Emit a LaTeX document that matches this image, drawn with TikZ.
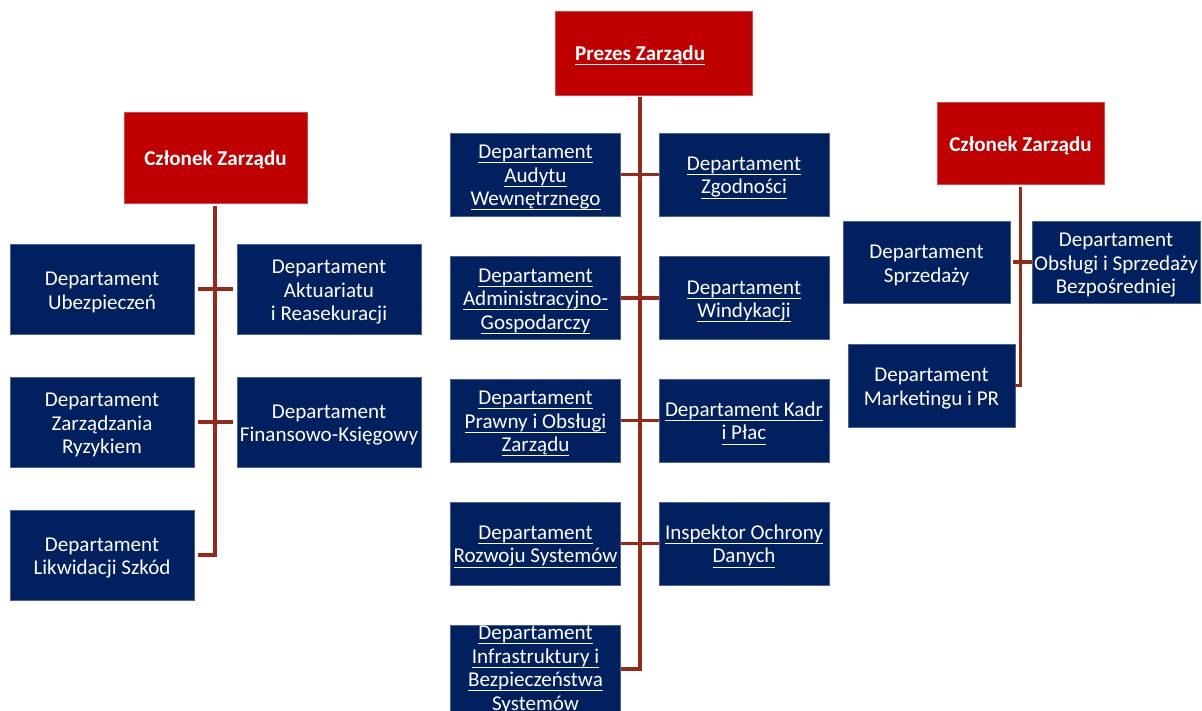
\documentclass[tikz,border=0pt]{standalone}
\usepackage{fontspec}
\setmainfont{Carlito}
\usepackage{tikz}
\usetikzlibrary{positioning}
\definecolor{zredbox}{HTML}{C00000}
\definecolor{znavy}{HTML}{002060}
\definecolor{zline}{RGB}{148,42,26}
\newcommand{\ulin}[1]{\leavevmode\setbox0=\hbox{#1}\rlap{\rule[-3.4pt]{\wd0}{0.7pt}}\box0}
\newcommand{\topgap}{\rule{0pt}{15pt}}
\tikzset{every path/.style={thick}}
\tikzset{
  boss/.style={fill=zredbox,draw=zredbox!70!white,line width=0.5pt,text=white,align=center,
    inner sep=1pt,font=\fontsize{15.8}{17.6}\selectfont\bfseries,
    execute at begin node=\rule{0pt}{15pt}},
  dept/.style={fill=znavy,draw=znavy!70!white,line width=0.5pt,text=white,align=center,
    inner sep=1pt,font=\fontsize{15.8}{17.6}\selectfont},
  conn/.style={draw=zline,line width=2.3pt}
}

\begin{document}
\begin{tikzpicture}[x=0.75pt,y=-0.75pt]
\useasboundingbox (0,0) rectangle (1202,710);
% zarzad
\node[boss,minimum width=147.75pt,minimum height=63pt] (prezes) at (653.5,53) {\ulin{Prezes Zarządu}\hspace*{20pt}};
\node[boss,minimum width=137.25pt,minimum height=68.25pt] (czl) at (215.5,157.5) {Członek Zarządu};
\node[boss,minimum width=125.25pt,minimum height=61.5pt] (czr) at (1020.5,143) {Członek Zarządu};
% pion prezesa
\node[dept,minimum width=127.5pt,minimum height=62.25pt] (c1) at (535.5,174.5) {\topgap\ulin{Departament}\\\ulin{Audytu}\\\ulin{Wewnętrznego}};
\node[dept,minimum width=127.5pt,minimum height=62.25pt] (c2) at (744,174.5) {\topgap\ulin{Departament}\\\ulin{Zgodności}};
\node[dept,minimum width=127.5pt,minimum height=62.25pt] (c3) at (535.5,298) {\topgap\ulin{Departament}\\\ulin{Administracyjno-}\\\ulin{Gospodarczy}};
\node[dept,minimum width=127.5pt,minimum height=62.25pt] (c4) at (744,298) {\topgap\ulin{Departament}\\\ulin{Windykacji}};
\node[dept,minimum width=127.5pt,minimum height=62.25pt] (c5) at (535.5,420.5) {\topgap\ulin{Departament}\\\ulin{Prawny i Obsługi}\\\ulin{Zarządu}};
\node[dept,minimum width=127.5pt,minimum height=62.25pt] (c6) at (744,420.5) {\topgap\ulin{Departament Kadr}\\\ulin{i Płac}};
\node[dept,minimum width=127.5pt,minimum height=62.25pt] (c7) at (535.5,543.5) {\topgap\ulin{Departament}\\\ulin{Rozwoju Systemów}};
\node[dept,minimum width=127.5pt,minimum height=62.25pt] (c8) at (744,543.5) {\topgap\ulin{Inspektor Ochrony}\\\ulin{Danych}};
\node[dept,minimum width=127.5pt,minimum height=62.25pt] (c9) at (535.5,670.5) {\ulin{Departament}\\\ulin{Infrastruktury i}\\\ulin{Bezpieczeństwa}\\\ulin{Systemów}};
% pion lewy
\node[dept,minimum width=138pt,minimum height=67.5pt] (l1) at (102,289) {\topgap Departament\\Ubezpieczeń};
\node[dept,minimum width=138pt,minimum height=67.5pt] (l2) at (329,289) {\topgap Departament\\Aktuariatu\\i Reasekuracji};
\node[dept,minimum width=138pt,minimum height=67.5pt] (l3) at (102,422) {\topgap Departament\\Zarządzania\\Ryzykiem};
\node[dept,minimum width=138pt,minimum height=67.5pt] (l4) at (329,422) {\topgap Departament\\Finansowo-Księgowy};
\node[dept,minimum width=138pt,minimum height=67.5pt] (l5) at (102,555) {\topgap Departament\\Likwidacji Szkód};
% pion prawy
\node[dept,minimum width=125.25pt,minimum height=61.5pt] (r1) at (926.5,262) {\topgap Departament\\Sprzedaży};
\node[dept,minimum width=126pt,minimum height=61.5pt] (r2) at (1116,262) {\topgap Departament\\Obsługi i Sprzedaży\\Bezpośredniej};
\node[dept,minimum width=125.25pt,minimum height=62.25pt] (r3) at (931.5,385.5) {\topgap Departament\\Marketingu i PR};
% linie
\coordinate (cend) at (640,669);
\coordinate (lend) at (215,555);
\draw[conn] ([yshift=-1.5pt]prezes.south -| cend) -- (cend) -- (c9.east |- cend);
\draw[conn] (c1.east) -- (c2.west);
\draw[conn] (c3.east) -- (c4.west);
\draw[conn] (c5.east) -- (c6.west);
\draw[conn] (c7.east) -- (c8.west);
\draw[conn] ([yshift=-2pt]czl.south -| lend) -- (lend) -- ([xshift=3pt]l5.east);
\draw[conn,shorten <=3pt,shorten >=3pt] (l1.east) -- (l2.west);
\draw[conn,shorten <=3pt,shorten >=3pt] (l3.east) -- (l4.west);
\draw[conn] ([yshift=-2pt]czr.south) -- (czr.south |- r3.east) -- (r3.east);
\draw[conn,shorten <=2pt] (r1.east) -- (r2.west);
\end{tikzpicture}
\end{document}
